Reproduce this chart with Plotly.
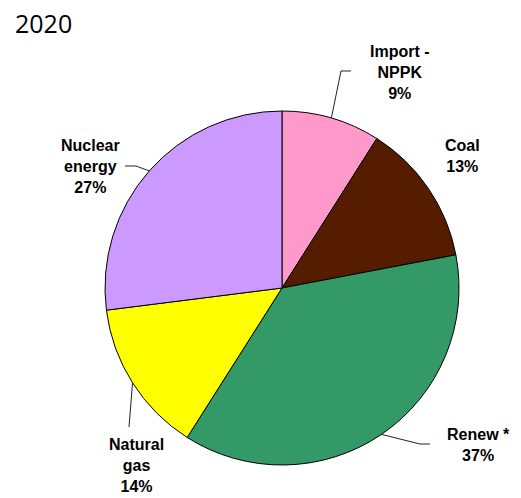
import math
import plotly.graph_objects as go

# Data
labels = ["Import - NPPK", "Coal", "Renew *", "Natural gas", "Nuclear energy"]
label_text = ["Import -<br>NPPK<br>9%", "Coal<br>13%", "Renew *<br>37%", "Natural<br>gas<br>14%", "Nuclear<br>energy<br>27%"]
values = [9, 13, 37, 14, 27]
colors = ["#FF99CC", "#561C00", "#339966", "#FFFF00", "#CC99FF"]
title_text = "2020"

W, H = 521, 498
CX, CY, R = 282, 288, 177  # pie centre / radius in pixels

# label block centres (px) and leader-line path points (px), None = no leader
label_pos = [(400, 72), (462, 156), (478, 445), (136, 465), (90, 167)]
leader_pts = [[(341, 71), (351, 71)], None, [(420, 444), (430, 444)], [(129, 427)], [(136, 166), (125, 166)]]

def px(x):
    return x / W

def py(y):
    return 1 - y / H

fig = go.Figure(go.Pie(
    labels=labels, values=values, sort=False, direction="clockwise", rotation=0,
    marker=dict(colors=colors, line=dict(color="black", width=1)),
    textinfo="none", hoverinfo="label+percent", showlegend=False,
    domain=dict(x=[px(CX - R), px(CX + R)], y=[py(CY + R), py(CY - R)]),
))

total = sum(values)
cum = 0
shapes = []
annotations = []
for i, v in enumerate(values):
    mid = (cum + v / 2) / total * 2 * math.pi
    cum += v
    ex = CX + R * math.sin(mid)
    ey = CY - R * math.cos(mid)
    if leader_pts[i]:
        pts = [(ex, ey)] + leader_pts[i]
        path = "M " + " L ".join(f"{px(a):.5f},{py(b):.5f}" for a, b in pts)
        shapes.append(dict(type="path", xref="paper", yref="paper", path=path,
                           line=dict(color="#222222", width=1)))
    lx, ly = label_pos[i]
    annotations.append(dict(
        x=px(lx), y=py(ly), xref="paper", yref="paper", text=label_text[i],
        showarrow=False, align="center", xanchor="center", yanchor="middle",
        font=dict(family="Arial, Liberation Sans, sans-serif", size=16, color="black", weight="bold"),
    ))

annotations.append(dict(
    x=px(13), y=py(23), xref="paper", yref="paper", text=title_text, showarrow=False,
    xanchor="left", yanchor="middle",
    font=dict(family="Open Sans, sans-serif", size=25, color="black"),
))

fig.update_layout(
    width=W, height=H, margin=dict(l=0, r=0, t=0, b=0),
    paper_bgcolor="white", plot_bgcolor="white",
    shapes=shapes, annotations=annotations,
)

fig.write_html("out.html")
